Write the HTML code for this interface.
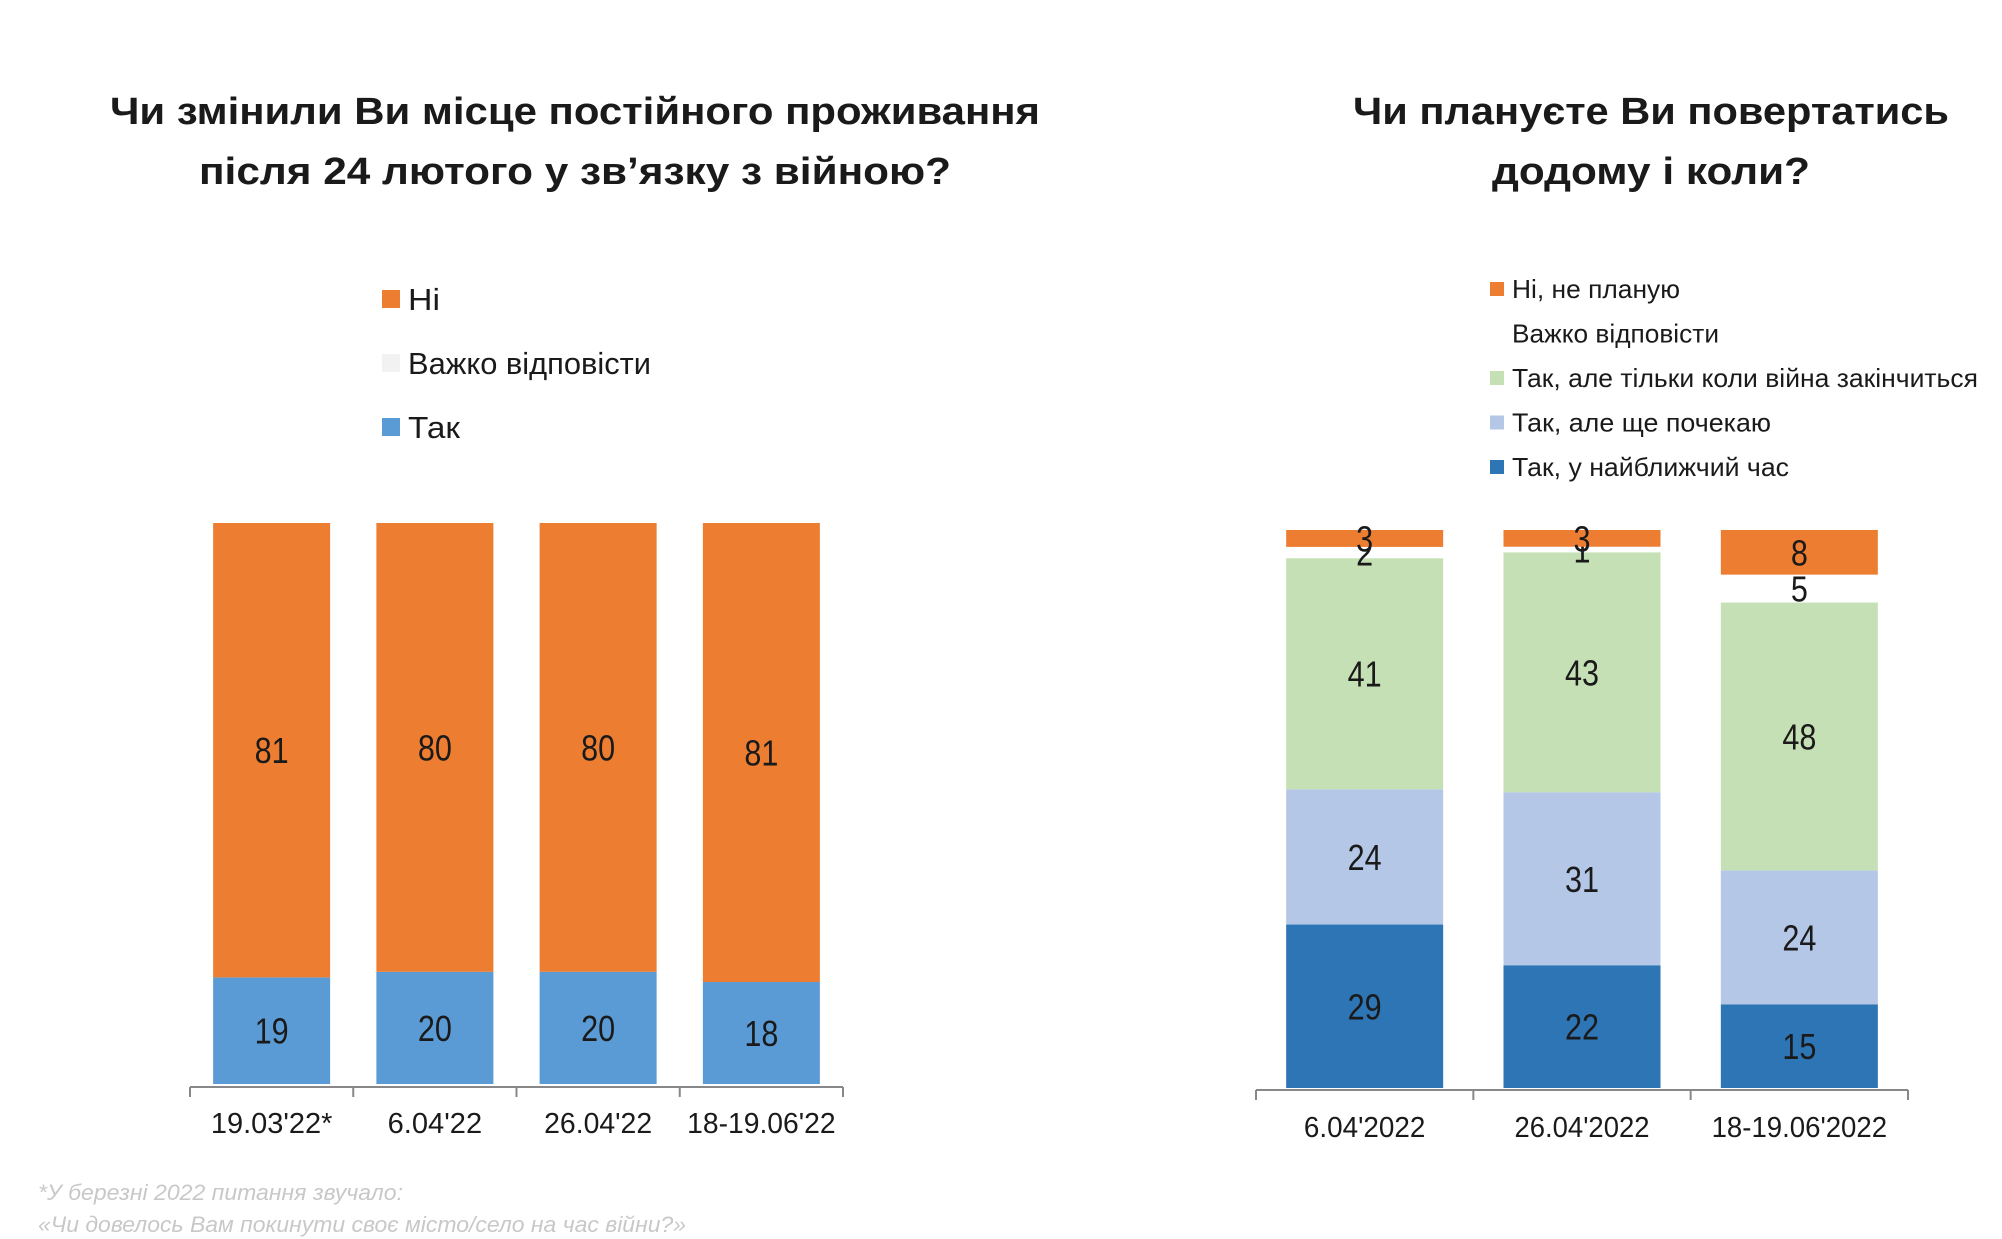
<!DOCTYPE html>
<html><head><meta charset="utf-8"><style>
html,body{margin:0;padding:0;background:#fff;}
svg{display:block;font-family:"Liberation Sans",sans-serif;}
</style></head><body>
<svg id="chart" width="2002" height="1239" viewBox="0 0 2002 1239" xmlns="http://www.w3.org/2000/svg">
<rect width="2002" height="1239" fill="#fff"/>
<g font-weight="bold" font-size="38" fill="#1a1a1a" text-anchor="middle">
<text x="575" y="124" textLength="930" lengthAdjust="spacingAndGlyphs">Чи змінили Ви місце постійного проживання</text>
<text x="575" y="184" textLength="752" lengthAdjust="spacingAndGlyphs">після  24 лютого у зв’язку з війною?</text>
</g>
<g font-weight="bold" font-size="38" fill="#1a1a1a" text-anchor="middle">
<text x="1651" y="124" textLength="596" lengthAdjust="spacingAndGlyphs">Чи плануєте Ви повертатись</text>
<text x="1651" y="184" textLength="318" lengthAdjust="spacingAndGlyphs">додому і коли?</text>
</g>
<g id="left"></g>
<g id="right"></g>
<g font-size="22" font-style="italic" fill="#c8c8c8">
<text x="38" y="1200" textLength="365" lengthAdjust="spacingAndGlyphs">*У березні 2022 питання звучало:</text>
<text x="38" y="1232" textLength="648" lengthAdjust="spacingAndGlyphs">«Чи довелось Вам покинути своє місто/село на час війни?»</text>
</g>
</svg>
<script>
const leftCategories = ["19.03'22*", "6.04'22", "26.04'22", "18-19.06'22"];
const leftYes = [19, 20, 20, 18];
const leftNo = [81, 80, 80, 81];
const leftHard = [0, 0, 0, 0];

const rightCategories = ["6.04'2022", "26.04'2022", "18-19.06'2022"];
const rightSoon = [29, 22, 15];
const rightWait = [24, 31, 24];
const rightAfterWar = [41, 43, 48];
const rightHard = [2, 1, 5];
const rightNo = [3, 3, 8];

const NS = "http://www.w3.org/2000/svg";
function mk(parent, tag, attrs, text) {
  const el = document.createElementNS(NS, tag);
  for (const k in attrs) el.setAttribute(k, attrs[k]);
  if (text !== undefined) el.textContent = text;
  parent.appendChild(el);
  return el;
}

function drawChart(g, cfg) {
  const n = cfg.categories.length;
  const step = (cfg.axisX1 - cfg.axisX0) / n;
  const ax = mk(g, "line", {x1: cfg.axisX0, x2: cfg.axisX1, y1: cfg.axisY, y2: cfg.axisY, stroke: "#888", "stroke-width": 2});
  
  
  for (let i = 0; i <= n; i++) {
    const t = mk(g, "line", {x1: cfg.axisX0 + i * step, x2: cfg.axisX0 + i * step, y1: cfg.axisY, y2: cfg.axisY + 10, stroke: "#888", "stroke-width": 2});
    
    
  }
  for (let i = 0; i < n; i++) {
    const total = cfg.series.reduce((a, s) => a + s.values[i], 0) || 1;
    const yScale = v => (v / total) * (cfg.base - cfg.top);
    const cx = cfg.axisX0 + (i + 0.5) * step;
    const x = cx - cfg.barW / 2;
    let y = cfg.base;
    cfg.series.forEach(s => {
      const v = s.values[i];
      const h = yScale(v);
      y -= h;
      const r = mk(g, "rect", {x: x, y: y, width: cfg.barW, height: h, fill: s.color});
      
      
      if (s.label) {
        const tl = mk(g, "text", {x: cx, y: y + h / 2 + 13, "text-anchor": "middle", "font-size": 36, fill: "#1a1a1a", textLength: String(v).length * 17, lengthAdjust: "spacingAndGlyphs"}, String(v));
        
        
      }
    });
    const lbl = mk(g, "text", {x: cx, y: cfg.labelY, "text-anchor": "middle", "font-size": 29, fill: "#1a1a1a", textLength: cfg.categories[i].length * 13.5, lengthAdjust: "spacingAndGlyphs"}, cfg.categories[i]);
    
    
  }
  cfg.legend.forEach((l, j) => {
    const y = cfg.legY + j * cfg.legStep;
    if (l.color) {
      const sq = mk(g, "rect", {x: cfg.legX, y: y - cfg.sq, width: cfg.sq, height: cfg.sq, fill: l.color});
      
      
    }
    const t = mk(g, "text", {x: cfg.legX + cfg.sq + 8, y: y + 2, "font-size": cfg.legFont, fill: "#1a1a1a", textLength: l.w, lengthAdjust: "spacingAndGlyphs"}, l.text);
    
    
  });
}

drawChart(document.getElementById("left"), {
  categories: leftCategories, axisX0: 190, axisX1: 843, axisY: 1087, base: 1084, top: 523, barW: 117, labelY: 1133,
  series: [
    {key: "yes", values: leftYes, color: "#5B9BD5", label: true},
    {key: "hard", values: leftHard, color: "#F2F2F2", label: false},
    {key: "no", values: leftNo, color: "#ED7D31", label: true}
  ],
  legX: 382, legY: 308, legStep: 64, sq: 18, legFont: 31,
  legend: [
    {text: "Ні", color: "#ED7D31", w: 32},
    {text: "Важко відповісти", color: "#F2F2F2", w: 243},
    {text: "Так", color: "#5B9BD5", w: 52}
  ]
});

drawChart(document.getElementById("right"), {
  categories: rightCategories, axisX0: 1256, axisX1: 1908, axisY: 1090, base: 1088, top: 530, barW: 157, labelY: 1137,
  series: [
    {key: "soon", values: rightSoon, color: "#2E75B6", label: true},
    {key: "wait", values: rightWait, color: "#B4C7E7", label: true},
    {key: "after-war", values: rightAfterWar, color: "#C5E0B4", label: true},
    {key: "hard", values: rightHard, color: "#FFFFFF", label: true},
    {key: "no", values: rightNo, color: "#ED7D31", label: true}
  ],
  legX: 1490, legY: 296, legStep: 44.5, sq: 14, legFont: 26,
  legend: [
    {text: "Ні, не планую", color: "#ED7D31", w: 168},
    {text: "Важко відповісти", color: null, w: 207},
    {text: "Так, але тільки коли війна закінчиться", color: "#C5E0B4", w: 466},
    {text: "Так, але ще почекаю", color: "#B4C7E7", w: 259},
    {text: "Так, у найближчий час", color: "#2E75B6", w: 277}
  ]
});
</script>
</body></html>
